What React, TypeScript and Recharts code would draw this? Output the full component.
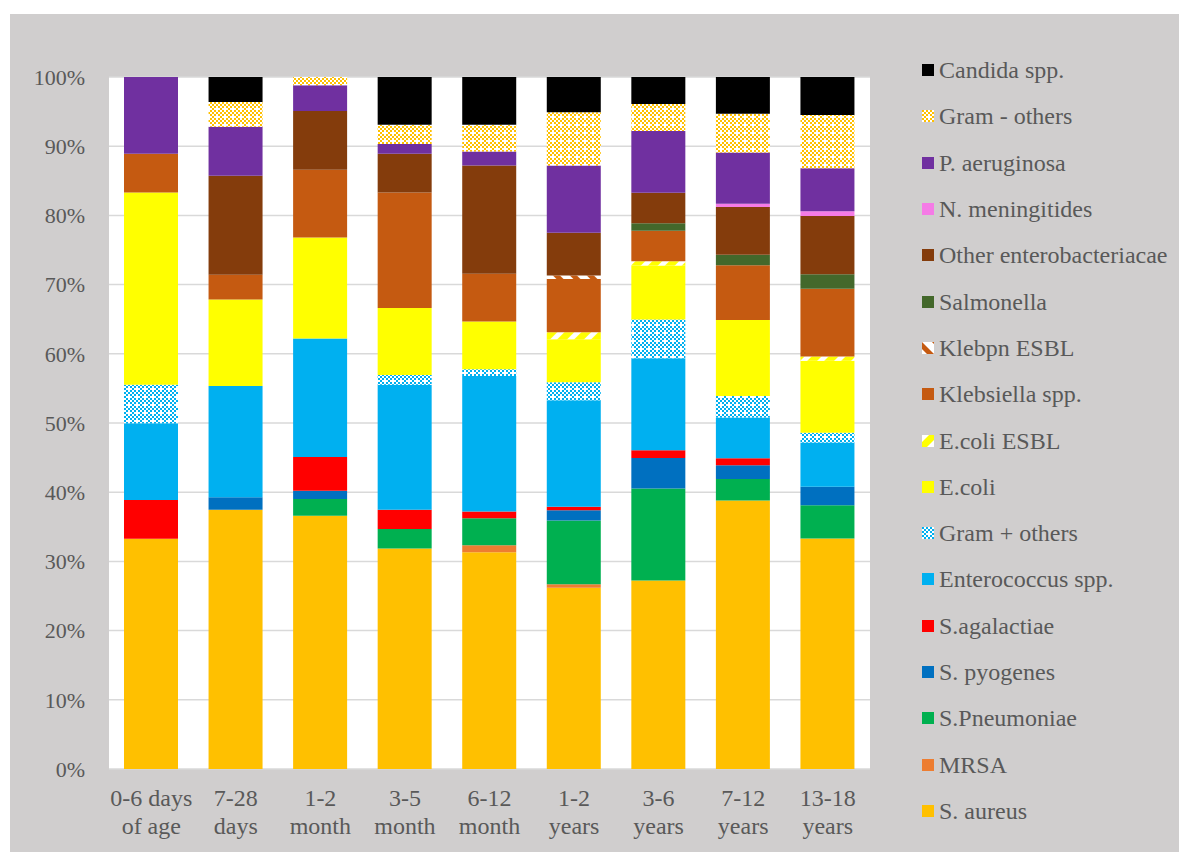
import { BarChart, Bar, XAxis, YAxis, CartesianGrid, Legend } from "recharts";

const FONT = '"Liberation Serif", "Times New Roman", serif';
const TEXT = "#595959";

const ageGroups = [
  "0-6 days\nof age",
  "7-28\ndays",
  "1-2\nmonth",
  "3-5\nmonth",
  "6-12\nmonth",
  "1-2\nyears",
  "3-6\nyears",
  "7-12\nyears",
  "13-18\nyears",
];

// share of isolates per age group, %
const sAureus = [33.3, 37.5, 36.6, 31.9, 31.4, 26.2, 27.2, 38.8, 33.3];
const mrsa = [0, 0, 0, 0, 1.0, 0.5, 0, 0, 0];
const sPneumoniae = [0, 0, 2.4, 2.8, 3.9, 9.2, 13.3, 3.1, 4.8];
const sPyogenes = [0, 1.8, 1.2, 0, 0, 1.5, 4.4, 2.0, 2.7];
const sAgalactiae = [5.6, 0, 4.9, 2.8, 1.0, 0.5, 1.1, 1.0, 0];
const enterococcus = [11.1, 16.1, 17.1, 18.1, 19.6, 15.4, 13.3, 5.9, 6.4];
const gramPosOthers = [5.6, 0, 0, 1.4, 1.0, 2.6, 5.6, 3.1, 1.4];
const eColi = [27.8, 12.5, 14.6, 9.7, 6.9, 6.2, 7.8, 11.0, 10.4];
const eColiEsbl = [0, 0, 0, 0, 0, 1.0, 0.6, 0, 0.6];
const klebsiella = [5.6, 3.6, 9.8, 16.7, 6.9, 7.7, 4.4, 7.9, 9.8];
const klebpnEsbl = [0, 0, 0, 0, 0, 0.5, 0, 0, 0];
const salmonella = [0, 0, 0, 0, 0, 0, 1.1, 1.5, 2.1];
const otherEntero = [0, 14.3, 8.5, 5.6, 15.7, 6.2, 4.4, 6.9, 8.4];
const nMeningitides = [0, 0, 0, 0, 0, 0, 0, 0.5, 0.7];
const pAeruginosa = [11.1, 7.1, 3.7, 1.4, 2.0, 9.7, 8.9, 7.4, 6.2];
const gramNegOthers = [0, 3.6, 1.2, 2.8, 3.9, 7.7, 3.9, 5.6, 7.7];
const candida = [0, 3.6, 0, 6.9, 6.9, 5.1, 3.9, 5.3, 5.5];

const yTicks = [0, 0.1, 0.2, 0.3, 0.4, 0.5, 0.6, 0.7, 0.8, 0.9, 1];

// stacked bottom -> top
const series = [
  { name: "S. aureus", values: sAureus, fill: "#FFC000" },
  { name: "MRSA", values: mrsa, fill: "#ED7D31" },
  { name: "S.Pneumoniae", values: sPneumoniae, fill: "#00B050" },
  { name: "S. pyogenes", values: sPyogenes, fill: "#0070C0" },
  { name: "S.agalactiae", values: sAgalactiae, fill: "#FF0000" },
  { name: "Enterococcus spp.", values: enterococcus, fill: "#00B0F0" },
  { name: "Gram + others", values: gramPosOthers, fill: "url(#gramPosChk)" },
  { name: "E.coli", values: eColi, fill: "#FFFF00" },
  { name: "E.coli ESBL", values: eColiEsbl, fill: "url(#ecoliStripe)" },
  { name: "Klebsiella spp.", values: klebsiella, fill: "#C55A11" },
  { name: "Klebpn ESBL", values: klebpnEsbl, fill: "url(#klebStripe)" },
  { name: "Salmonella", values: salmonella, fill: "#43682B" },
  { name: "Other enterobacteriacae", values: otherEntero, fill: "#843C0C" },
  { name: "N. meningitides", values: nMeningitides, fill: "#F57BE6" },
  { name: "P. aeruginosa", values: pAeruginosa, fill: "#7030A0" },
  { name: "Gram - others", values: gramNegOthers, fill: "url(#gramNegChk)" },
  { name: "Candida spp.", values: candida, fill: "#000000" },
];

const data = ageGroups.map((age, i) => {
  const row: Record<string, string | number> = { age };
  series.forEach((s, k) => {
    row[`s${k}`] = s.values[i];
  });
  return row;
});

// small checkerboard with a few white gaps
function Checker({ id, color }: { id: string; color: string }) {
  const cells: [number, number][] = [
    [0, 0], [4, 0], [2, 2], [6, 2], [0, 4], [4, 4], [2, 6],
  ];
  return (
    <pattern id={id} width={8} height={8} patternUnits="userSpaceOnUse">
      <rect width={8} height={8} fill="#fff" />
      {cells.map(([cx, cy]) => (
        <rect key={`${cx}-${cy}`} x={cx} y={cy} width={2} height={2} fill={color} />
      ))}
    </pattern>
  );
}

function Stripes({ id, color, angle, white }: { id: string; color: string; angle: number; white: number }) {
  return (
    <pattern id={id} width={12} height={12} patternUnits="userSpaceOnUse" patternTransform={`rotate(${angle})`}>
      <rect width={12} height={12} fill={color} />
      <rect width={white} height={12} fill="#fff" />
    </pattern>
  );
}

function AgeTick({ x, y, payload }: any) {
  const [l1, l2] = String(payload.value).split("\n");
  return (
    <text x={x} y={y} textAnchor="middle" fill={TEXT} fontSize={24} fontFamily={FONT}>
      <tspan x={x} dy={29}>{l1}</tspan>
      <tspan x={x} dy={28}>{l2}</tspan>
    </text>
  );
}

function LegendList() {
  return (
    <div style={{ fontFamily: FONT, fontSize: 24, color: TEXT }}>
      {[...series].reverse().map((s) => (
        <div key={s.name} style={{ height: 46.3, display: "flex", alignItems: "center", whiteSpace: "nowrap" }}>
          <svg width={12} height={12} style={{ display: "block", flex: "none" }}>
            <rect width={12} height={12} fill={s.fill} />
          </svg>
          <span style={{ marginLeft: 5, lineHeight: 1 }}>{s.name}</span>
        </div>
      ))}
    </div>
  );
}

export default function App() {
  return (
    <div style={{ position: "fixed", left: 0, top: 0, width: 1179, height: 852, background: "#fff" }}>
      <div style={{ position: "absolute", left: 10, top: 14, width: 1169, height: 838, background: "#D0CECE" }}>
        <BarChart
          width={1169}
          height={838}
          data={data}
          stackOffset="expand"
          margin={{ top: 63, right: 309, bottom: 13, left: 10 }}
        >
          <defs>
            <Checker id="gramPosChk" color="#00B0F0" />
            <Checker id="gramNegChk" color="#FFC000" />
            <Stripes id="ecoliStripe" color="#FFFF00" angle={45} white={5} />
            <Stripes id="klebStripe" color="#C55A11" angle={-45} white={7} />
          </defs>
          <CartesianGrid vertical={false} stroke="#D9D9D9" strokeWidth={1.5} fill="#fff" />
          <XAxis
            dataKey="age"
            height={70}
            axisLine={false}
            tickLine={false}
            interval={0}
            tick={<AgeTick />}
          />
          <YAxis
            width={89}
            domain={[0, 1]}
            ticks={yTicks}
            tickFormatter={(v: number) => `${Math.round(v * 100)}%`}
            axisLine={false}
            tickLine={false}
            tickSize={6}
            tickMargin={18}
            tick={{ fill: TEXT, fontSize: 22, fontFamily: FONT }}
          />
          <Legend
            layout="vertical"
            align="center"
            verticalAlign="middle"
            wrapperStyle={{ left: 912, top: 33, width: 250, height: "auto" }}
            content={<LegendList />}
          />
          {series.map((s, k) => (
            <Bar key={s.name} dataKey={`s${k}`} name={s.name} stackId="a" fill={s.fill} barSize={54} isAnimationActive={false} />
          ))}
        </BarChart>
      </div>
    </div>
  );
}
